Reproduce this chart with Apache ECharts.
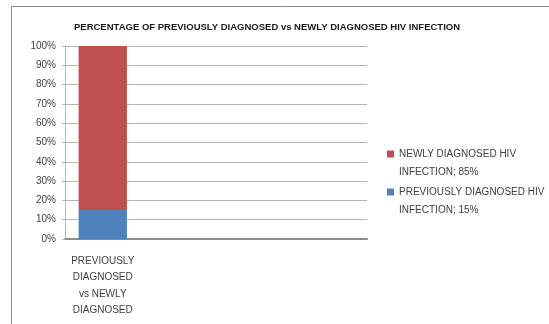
<!DOCTYPE html>
<html>
<head>
<meta charset="utf-8">
<script src="https://cdn.jsdelivr.net/npm/echarts@6/dist/echarts.min.js"></script>
<style>
  html, body { margin: 0; padding: 0; background: #fff; }
  #chart { width: 549px; height: 324px; }
</style>
</head>
<body>
<div id="chart"></div>
<script>
"use strict"

// one real category, three empty slots (Excel left the axis with room for more)
const categories = ["PREVIOUSLY\nDIAGNOSED\nvs NEWLY\nDIAGNOSED", "", "", ""];
const previouslyVals = [15, null, null, null];
const newlyVals = [85, null, null, null];
const legendNames = ["NEWLY DIAGNOSED HIV\nINFECTION; 85%", "PREVIOUSLY DIAGNOSED HIV\nINFECTION; 15%"];
const titleText = "PERCENTAGE OF PREVIOUSLY DIAGNOSED vs NEWLY DIAGNOSED HIV INFECTION";

const font = "Liberation Sans, Arial, sans-serif";
const txtCol = "#404040";

const myChart = echarts.init(document.getElementById("chart"), null, { renderer: "canvas" });

const option = {
    animation: false,
    backgroundColor: "#fff",
    title: {
        text: titleText,
        left: 262,
        top: 17,
        textAlign: "center",
        textStyle: { fontFamily: font, fontSize: 9.5, fontWeight: "bold", color: "#1a1a1a" }
    },
    graphic: [{
        type: "rect",
        shape: { x: 11.5, y: 6.5, width: 700, height: 500 },
        style: { fill: "none", stroke: "#8c8c8c", lineWidth: 1 },
        silent: true
    }],
    legend: {
        orient: "vertical",
        left: 382,
        top: 122,
        itemWidth: 7,
        itemHeight: 7,
        itemGap: -16,
        icon: "rect",
        data: [legendNames[0], legendNames[1]],
        // blank first line so the square sits beside the first text line
        formatter: name => " \n" + name,
        textStyle: { fontFamily: font, fontSize: 10, color: txtCol, lineHeight: 18 }
    },
    grid: { left: 65, right: 182, top: 46, bottom: 85 },
    xAxis: {
        type: "category",
        data: categories,
        axisLine: { lineStyle: { color: "#8c8c8c", width: 2 } },
        axisTick: { show: false },
        axisLabel: { interval: 0, fontFamily: font, fontSize: 10, color: txtCol, lineHeight: 16.3, margin: 14 }
    },
    yAxis: {
        type: "value",
        min: 0,
        max: 100,
        interval: 10,
        axisLine: { show: true, lineStyle: { color: "#b5b5b5" } },
        axisTick: { show: true, length: 3, lineStyle: { color: "#b5b5b5" } },
        splitLine: { lineStyle: { color: "#b5b5b5" } },
        axisLabel: { formatter: "{value}%", fontFamily: font, fontSize: 10, color: txtCol, margin: 9 }
    },
    series: [
        {
            name: legendNames[1],
            type: "bar",
            stack: "total",
            barWidth: "64%",
            itemStyle: { color: "#4f81bd" },
            data: previouslyVals
        },
        {
            name: legendNames[0],
            type: "bar",
            stack: "total",
            barWidth: "64%",
            itemStyle: { color: "#c0504d" },
            data: newlyVals
        }
    ]
};

myChart.setOption(option);
</script>
</body>
</html>
